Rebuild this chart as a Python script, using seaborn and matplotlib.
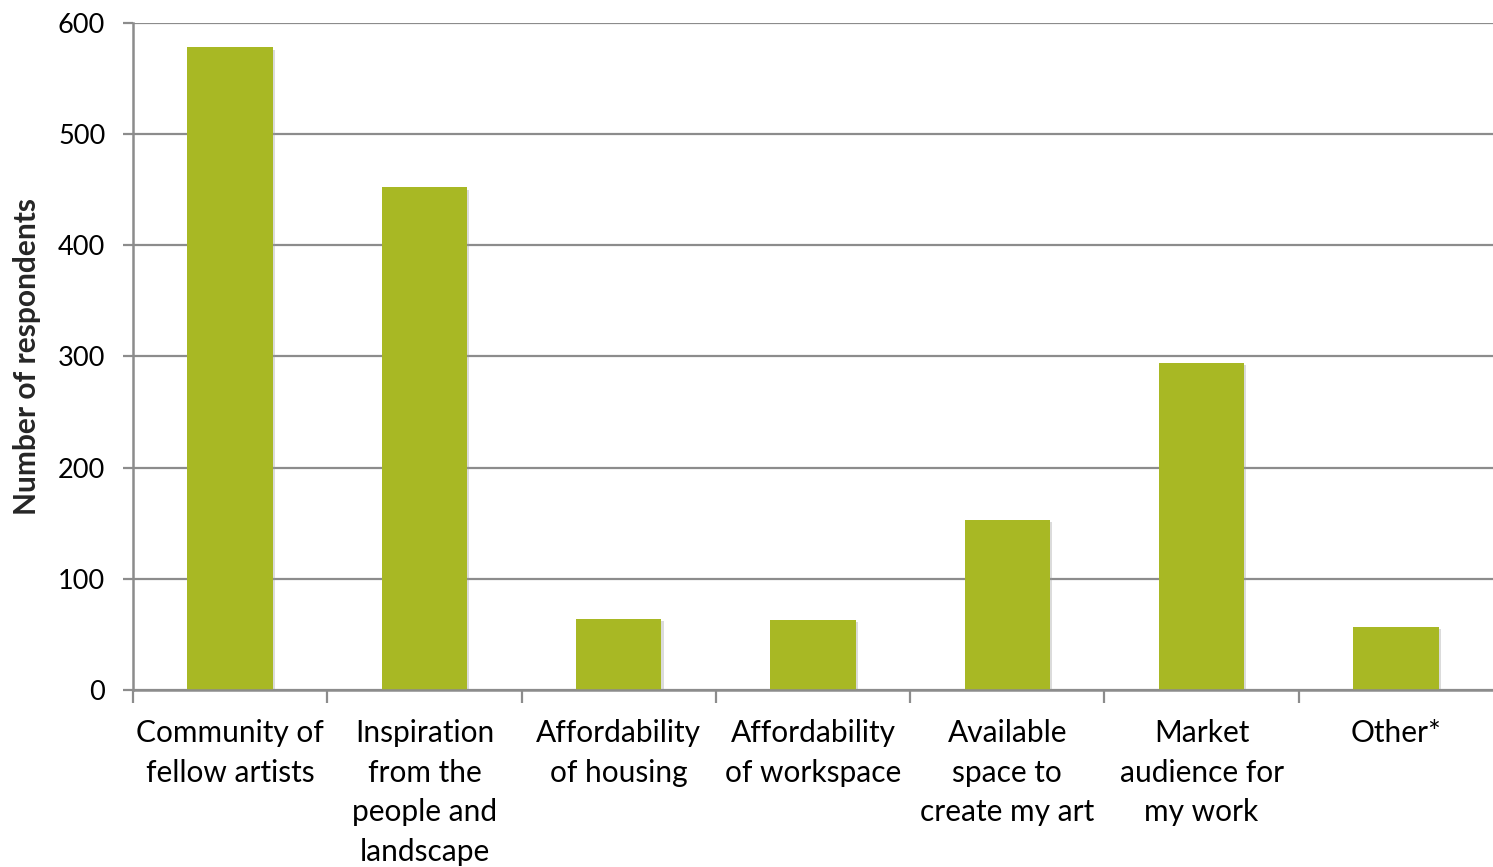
import matplotlib
matplotlib.use("Agg")
import matplotlib.pyplot as plt
import matplotlib.patheffects as pe
import seaborn as sns
import pandas as pd
import numpy as np

categories = [
    "Community of\nfellow artists",
    "Inspiration\nfrom the\npeople and\nlandscape",
    "Affordability\nof housing",
    "Affordability\nof workspace",
    "Available\nspace to\ncreate my art",
    "Market\naudience for\nmy work",
    "Other*",
]
respondents = [578, 452, 64, 63, 153, 294, 57]
y_ticks = [0, 100, 200, 300, 400, 500, 600]

sns.set_theme(style="white")
plt.rcParams["font.family"] = ["Lato", "DejaVu Sans"]

df = pd.DataFrame({"reason": categories, "count": respondents})

fig = plt.figure(figsize=(14.93, 8.67), dpi=100)
ax = fig.add_axes([0.0891, 0.2042, 0.9109, 0.7693])

sns.barplot(data=df, x="reason", y="count", color="#A8B824", saturation=1,
            width=0.44, ax=ax, zorder=3)
for bar in ax.patches:
    bar.set_path_effects([pe.SimplePatchShadow(offset=(1.5, -1.5), shadow_rgbFace="#999999", alpha=0.35),
                          pe.Normal()])
    bar.set_edgecolor("none")

grid_color = "#8C8C8C"
ax.set_ylim(0, 600)
ax.set_xlim(-0.5, len(categories) - 0.5)
ax.set_yticks(y_ticks)
ax.set_yticklabels([str(v) for v in y_ticks], fontsize=19.5)
ax.yaxis.grid(True, color=grid_color, linewidth=1.6, zorder=0)
ax.set_axisbelow(True)

for side in ["top", "right"]:
    ax.spines[side].set_visible(False)
for side in ["left", "bottom"]:
    ax.spines[side].set_color(grid_color)
    ax.spines[side].set_linewidth(1.8)
    ax.spines[side].set_zorder(4)

ax.tick_params(axis="y", which="major", left=True, length=7, width=1.6,
               color=grid_color, pad=13, labelcolor="black")
ax.set_xticks(range(len(categories)))
ax.set_xticklabels(categories, fontsize=21.5, linespacing=1.5, va="top")
ax.tick_params(axis="x", which="major", length=0, pad=21, labelcolor="black")
ax.set_xticks(np.arange(-0.5, len(categories) - 0.5, 1.0), minor=True)
ax.tick_params(axis="x", which="minor", bottom=True, length=9, width=1.6, color=grid_color)

ax.set_xlabel("")
ax.set_ylabel("Number of respondents", fontsize=21.5, fontweight="bold", labelpad=12)

fig.savefig("out.png", dpi=100)
